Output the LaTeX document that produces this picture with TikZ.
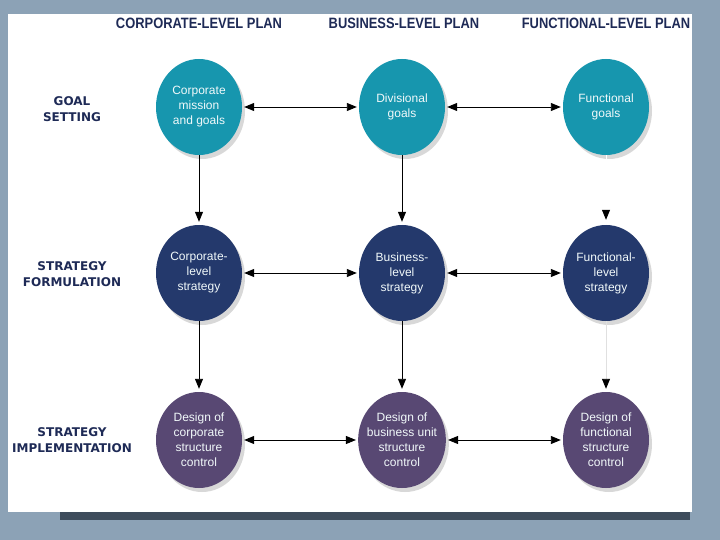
\documentclass[tikz,border=0pt]{standalone}
\usepackage{fontspec}
\setmainfont{Liberation Sans}
\newfontfamily\headfont{Liberation Sans}[FakeStretch=0.86]
\newfontfamily\rowfont{DejaVu Sans}
\usetikzlibrary{arrows.meta,positioning,shapes.geometric,shadows}
\definecolor{bgblue}{HTML}{8CA2B6}
\definecolor{bgdark}{HTML}{3E4C5C}
\definecolor{hnavy}{HTML}{1E2A56}
\definecolor{cteal}{HTML}{1796AE}
\definecolor{cnavy}{HTML}{24396C}
\definecolor{cpurple}{HTML}{584873}
\tikzset{
  plan/.style={font=\headfont\bfseries\fontsize{15}{15}\selectfont,text=hnavy,inner sep=0pt},
  stage/.style={font=\rowfont\bfseries\fontsize{12}{16}\selectfont,text=hnavy,align=center,inner sep=0pt},
  blob/.style={ellipse,minimum width=86pt,minimum height=96pt,inner sep=-4pt,align=center,text=white!94!cteal,font=\fontsize{12}{15}\selectfont,drop shadow={opacity=0.3,shadow xshift=3pt,shadow yshift=-4pt}},
  goal/.style={blob,fill=cteal},
  strat/.style={blob,fill=cnavy},
  impl/.style={blob,fill=cpurple},
  arr/.style={-{Triangle[length=10pt,width=8pt,color=black]},line width=0.9pt,draw=black,shorten >=3pt},
  darr/.style={{Triangle[length=10pt,width=8pt]}-{Triangle[length=10pt,width=8pt]},line width=0.9pt,draw=black,shorten >=2pt,shorten <=2pt},
}
\begin{document}
\begin{tikzpicture}[x=1pt,y=-1pt]
  % frame
  \fill[bgblue] (0,0) rectangle (720,540);
  \fill[bgdark] (60,512) rectangle (690,520);
  \fill[white] (8,14) rectangle (692,512);
  % column heads
  \node[plan] (hc) at (199,23) {CORPORATE-LEVEL PLAN};
  \node[plan] (hb) at (404,23) {BUSINESS-LEVEL PLAN};
  \node[plan] (hf) at (606,23) {FUNCTIONAL-LEVEL PLAN};
  % row heads
  \node[stage] (rg) at (72,109) {GOAL\\SETTING};
  \node[stage] (rs) at (72,274) {STRATEGY\\FORMULATION};
  \node[stage] (ri) at (72,440) {STRATEGY\\IMPLEMENTATION};
  % goals
  \node[goal] (cg) at (199,107) {Corporate\\mission\\and goals};
  \node[goal] (bg) at (402,107) {Divisional\\goals};
  \node[goal] (fg) at (606,107) {Functional\\goals};
  % strategies
  \node[strat] (cs) at (199,273) {Corporate-\\level\\strategy};
  \node[strat] (bs) at (402,273) {Business-\\level\\strategy};
  \node[strat] (fs) at (606,273) {Functional-\\level\\strategy};
  % implementation
  \node[impl] (ci) at (199,440) {Design of\\corporate\\structure\\control};
  \node[impl] (bi) at (402,440) {Design of\\business unit\\structure\\control};
  \node[impl] (fi) at (606,440) {Design of\\functional\\structure\\control};
  % across
  \foreach \a/\b in {cg/bg,bg/fg,cs/bs,bs/fs,ci/bi,bi/fi} { \draw[darr] (\a.east) -- (\b.west); }
  % down
  \foreach \a/\b in {cg/cs,bg/bs,cs/ci,bs/bi} { \draw[arr] (\a.south) -- (\b.north); }
  \draw[arr,draw=white,shorten >=5pt] (fg.south) -- (fs.north);
  \draw[arr,draw=black!12] (fs.south) -- (fi.north);
\end{tikzpicture}
\end{document}
